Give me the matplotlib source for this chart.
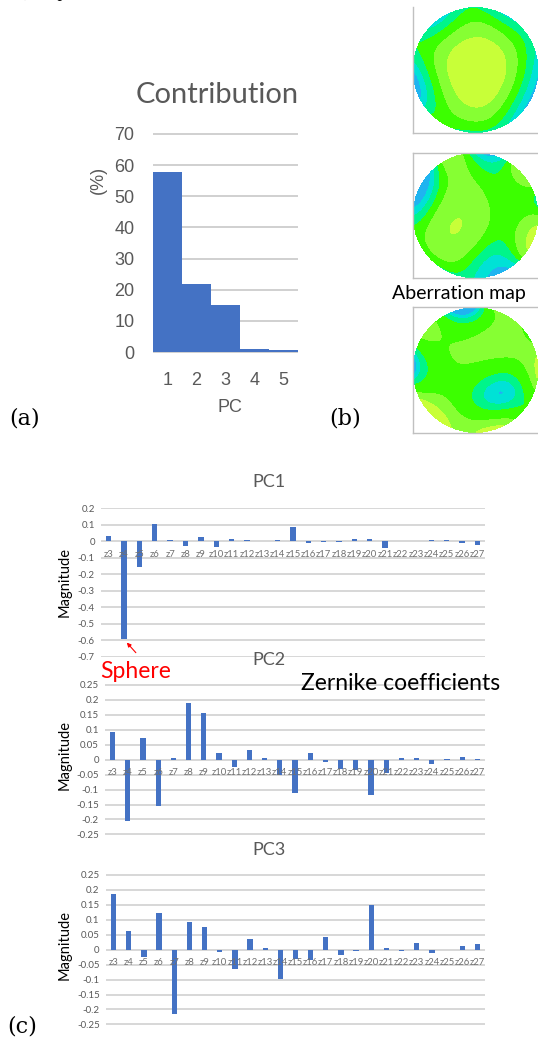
import numpy as np
import matplotlib.pyplot as plt
from math import factorial

W_PX, H_PX = 538, 1039

# panel (a): contribution of each principal component (%)
pcs = [1, 2, 3, 4, 5]
contribution = [57.8, 21.8, 15.2, 0.9, 0.8]

# panel (c): Zernike coefficients of PC1..PC3
zterms = ['z3', 'z4', 'z5', 'z6', 'z7', 'z8', 'z9', 'z10', 'z11', 'z12', 'z13', 'z14', 'z15',
          'z16', 'z17', 'z18', 'z19', 'z20', 'z21', 'z22', 'z23', 'z24', 'z25', 'z26', 'z27']
pc1 = [0.03, -0.596, -0.16, 0.105, 0.007, -0.03, 0.024, -0.034, 0.015, 0.008, 0.002, 0.008, 0.088,
       -0.012, -0.004, -0.004, 0.01, 0.012, -0.045, 0.0, 0.0, 0.008, 0.008, -0.01, -0.024]
pc2 = [0.092, -0.206, 0.072, -0.155, 0.005, 0.188, 0.157, 0.022, -0.025, 0.031, 0.005, -0.05, -0.113,
       0.022, -0.008, -0.031, -0.033, -0.118, -0.046, 0.005, 0.007, -0.014, 0.002, 0.009, 0.003]
pc3 = [0.186, 0.062, -0.024, 0.122, -0.216, 0.092, 0.077, -0.008, -0.065, 0.034, 0.004, -0.098, -0.03,
       -0.035, 0.042, -0.019, -0.004, 0.149, 0.007, -0.003, 0.023, -0.011, 0.0, 0.012, 0.02]

BLUE = '#4472C4'
GRID = '#cdcdcd'
TICK = '#595959'
map_colors = ['#1fb4f0', '#00e2d6', '#00f58a', '#3cff00', '#86ff33', '#c8ff38']
# colour band limits of each map, as percentiles of the map values
map_bands = [None, [0, 3, 10, 22, 60, 98, 100], [0, 1.5, 8, 20, 65, 97, 100]]


def box(l, t, w, h):
    return [l / W_PX, 1 - (t + h) / H_PX, w / W_PX, h / H_PX]


def fx(x):
    return x / W_PX


def fy(y):
    return 1 - y / H_PX


def zernike(j, rho, th):
    # OSA/ANSI single index
    n = int(np.ceil((-3 + np.sqrt(9 + 8 * j)) / 2))
    m = 2 * j - n * (n + 2)
    am = abs(m)
    R = np.zeros_like(rho)
    for k in range((n - am) // 2 + 1):
        c = (-1) ** k * factorial(n - k) / (factorial(k) * factorial((n + am) // 2 - k) * factorial((n - am) // 2 - k))
        R += c * rho ** (n - 2 * k)
    if m == 0:
        return np.sqrt(n + 1) * R
    ang = np.cos(m * th) if m > 0 else np.sin(am * th)
    return np.sqrt(2 * (n + 1)) * R * ang


def wavefront(coefs, n=301):
    x = np.linspace(-1, 1, n)
    X, Y = np.meshgrid(x, x)
    rho = np.hypot(X, Y)
    th = np.arctan2(Y, X)
    W = np.zeros_like(X)
    for lab, c in zip(zterms, coefs):
        W += c * zernike(int(lab[1:]), rho, th)
    W[rho > 1] = np.nan
    return X, Y, W


fig = plt.figure(figsize=(W_PX / 100, H_PX / 100), dpi=100)

# cropped sentence at the very top
fig.text(fx(12), fy(4), 'ある。', fontsize=16, family=['Noto Sans CJK JP', 'DejaVu Sans'],
         va='bottom', ha='left', color='black')

# ---- (a) Contribution
ax = fig.add_axes(box(153, 133, 145, 220))
ax.bar(pcs, contribution, width=1.0, color=BLUE, linewidth=0, zorder=2)
ax.set_xlim(0.5, 5.5)
ax.set_ylim(-0.3, 70.3)
ax.set_yticks(range(0, 71, 10))
ax.set_xticks(pcs)
ax.grid(axis='y', color='#c4c4c4', lw=1.1, zorder=0)
for s in ax.spines.values():
    s.set_visible(False)
ax.tick_params(length=0, labelsize=13, labelcolor=TICK, pad=13.5)
for lab in ax.get_xticklabels() + ax.get_yticklabels():
    lab.set_family('Liberation Sans')
fig.text(fx(217), fy(95), 'Contribution', fontsize=21, family='Lato', color=TICK, ha='center', va='center')
fig.text(fx(230), fy(407), 'PC', fontsize=13, family='Liberation Sans', color=TICK, ha='center', va='center')
fig.text(fx(98), fy(180), '(%)', fontsize=13, family='Liberation Sans', color=TICK, ha='center', va='center',
         rotation=90)

# ---- (b) Aberration maps
map_boxes = [(413, 7, 130, 126, False), (413, 153, 130, 125, True), (413, 307, 130, 126, True)]
for coefs, bands, (l, t, w, h, top) in zip([pc1, pc2, pc3], map_bands, map_boxes):
    mx = fig.add_axes(box(l, t, w, h))
    X, Y, W = wavefront(coefs)
    if bands is None:
        levels = np.linspace(np.nanmin(W), np.nanmax(W), len(map_colors) + 1)
    else:
        levels = np.nanpercentile(W, bands)
    mx.contourf(X, Y, W, levels=levels, colors=map_colors)
    mx.set_xlim(-1, -1 + 2 * w / 125)
    mx.set_ylim(-h / 125, h / 125)
    mx.set_xticks([])
    mx.set_yticks([])
    for s in mx.spines.values():
        s.set_color('#c0c0c0')
        s.set_linewidth(1)
    mx.spines['top'].set_visible(top)
fig.text(fx(392), fy(293), 'Aberration map', fontsize=14, family='Lato', color='black', ha='left', va='center')

# ---- (c) Zernike coefficients
charts = [
    (pc1, 'PC1', (-0.7, 0.2), 0.1, (101, 507.7, 384, 149.3), 482, 582),
    (pc2, 'PC2', (-0.25, 0.25), 0.05, (105, 684.3, 380, 150.7), 660, 755),
    (pc3, 'PC3', (-0.25, 0.25), 0.05, (106, 874.3, 379, 150.7), 850, 945),
]
xs = np.arange(len(zterms))
axes_c = []
for vals, title, (lo, hi), step, (l, t, w, h), ty, my in charts:
    cx = fig.add_axes(box(l, t, w, h))
    cx.bar(xs, vals, width=0.35, color=BLUE, zorder=2)
    cx.set_xlim(-0.5, len(zterms) - 0.5)
    cx.set_ylim(lo - 0.002, hi + 0.002)
    ticks = np.round(np.arange(lo, hi + step / 2, step), 2)
    cx.set_yticks(ticks)
    cx.set_yticklabels([f'{v + 0:g}' for v in ticks])
    cx.set_xticks([])
    cx.grid(axis='y', color=GRID, lw=1.1, zorder=0)
    for s in cx.spines.values():
        s.set_visible(False)
    cx.tick_params(length=0, labelsize=7, labelcolor=TICK, pad=4.5)
    for lab in cx.get_yticklabels():
        lab.set_family('Lato')
    for i, lab in enumerate(zterms):
        cx.annotate(lab, xy=(i, 0), xytext=(0, -9.5), textcoords='offset points', ha='center', va='center',
                    fontsize=6.8, family='Lato', color='#707070', zorder=3)
    fig.text(fx(269), fy(ty), title, fontsize=13, family='Lato', color=TICK, ha='center', va='center')
    fig.text(fx(65), fy(my), 'Magnitude', fontsize=10.5, family='Lato', color='black', ha='center', va='center',
             rotation=90)
    axes_c.append(cx)

# arrow pointing at the sphere term of PC1
axes_c[0].annotate('', xy=(1, pc1[1]), xytext=(8.5, -9.5), textcoords='offset points',
                   arrowprops=dict(arrowstyle='-|>', color='red', lw=0.8, mutation_scale=6, shrinkA=0, shrinkB=3))
fig.text(fx(136), fy(672), 'Sphere', fontsize=16.5, family='Lato', color='red', ha='center', va='center')
fig.text(fx(401), fy(683), 'Zernike coefficients', fontsize=16.5, family='Lato', color='black',
         ha='center', va='center')

# panel letters
for lab, x, y in [('(a)', 25, 418), ('(b)', 345, 418), ('(c)', 22, 1026)]:
    fig.text(fx(x), fy(y), lab, fontsize=16, family='DejaVu Serif', color='black', ha='center', va='center')

fig.savefig('out.png', dpi=100)
